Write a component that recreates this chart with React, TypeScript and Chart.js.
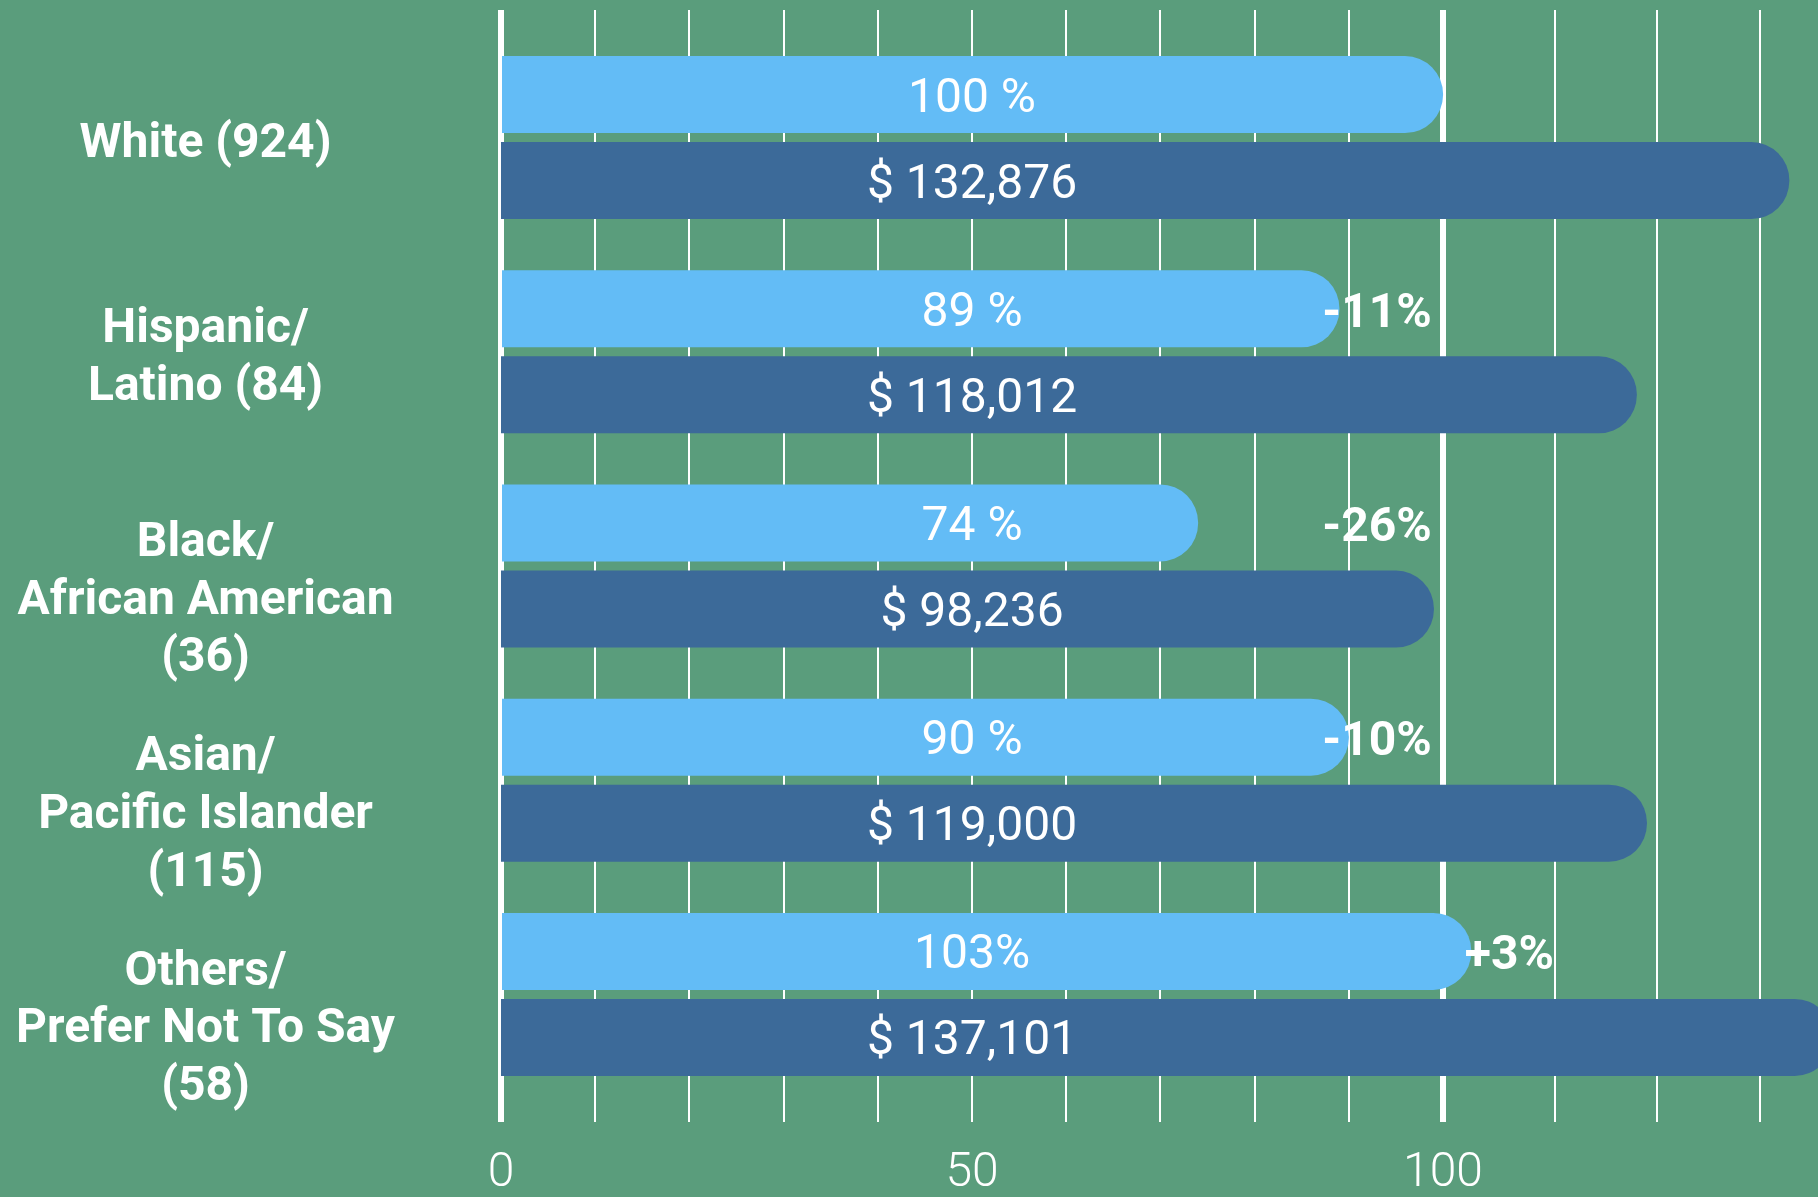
import React, { useEffect, useRef } from "react";
import { Chart, registerables } from "chart.js";

Chart.register(...registerables);

// ---- data ----
const categories: (string | string[])[] = [
  "White (924)",
  ["Hispanic/", "Latino (84)"],
  ["", "Black/", "African American", "(36)"],
  ["", "Asian/", "Pacific Islander", "(115)"],
  ["", "Others/", "Prefer Not To Say", "(58)"],
];
const pctOfWhite = [100, 89, 74, 90, 103];
const pctLabels = ["100 %", "89 %", "74 %", "90 %", "103%"];
const salaries = [132876, 118012, 98236, 119000, 137101];
const salaryLabels = ["$ 132,876", "$ 118,012", "$ 98,236", "$ 119,000", "$ 137,101"];
const innerGrid = [0, 10, 20, 30, 40, 50, 60, 70, 80, 90, 100];
const outerGrid = [110, 120, 130];
const refLines = [0, 100];
const xTickLabels = [0, 50, 100];

// ---- styles ----
const BG = "#5A9D7C";
const LIGHT = "#63BCF6";
const DARK = "#3C6A99";
const W = 1818;
const H = 1197;

const X_MAX = 139.8;
const X2_MIN = 7.31;
const X2_MAX = 135.67;
const LABEL_CENTER = 50;

const labelPlugin = {
  id: "valueLabels",
  afterDatasetsDraw(chart: any) {
    const ctx = chart.ctx;
    const xs = chart.scales.x;
    const cx = xs.getPixelForValue(LABEL_CENTER);
    const m0 = chart.getDatasetMeta(0);
    const m1 = chart.getDatasetMeta(1);
    ctx.save();
    ctx.fillStyle = "#ffffff";
    ctx.textBaseline = "middle";
    ctx.textAlign = "center";
    ctx.font = "400 48px Roboto";
    m0.data.forEach((el: any, i: number) => ctx.fillText(pctLabels[i], cx, el.y + 5));
    m1.data.forEach((el: any, i: number) => ctx.fillText(salaryLabels[i], cx, el.y + 5));
    ctx.font = "700 48px Roboto";
    m0.data.forEach((el: any, i: number) => {
      const d = pctOfWhite[i] - 100;
      if (d === 0) return;
      if (d < 0) {
        ctx.textAlign = "right";
        ctx.fillText(`-${Math.abs(d)}%`, xs.getPixelForValue(98.8), el.y + 6);
      } else {
        ctx.textAlign = "left";
        ctx.fillText(`+${d}%`, xs.getPixelForValue(102.3), el.y + 6);
      }
    });
    ctx.restore();
  },
};

export default function App() {
  const ref = useRef<HTMLCanvasElement>(null);
  useEffect(() => {
    if (!ref.current) return;
    Chart.defaults.font.family = "Roboto";
    const chart = new Chart(ref.current, {
      type: "bar",
      data: {
        datasets: [
          {
            label: "% of White",
            data: pctOfWhite.map((v, i) => ({ x: v, y: i })) as any,
            xAxisID: "x",
            yAxisID: "y",
            backgroundColor: LIGHT,
            borderRadius: 38,
            borderSkipped: "start",
            categoryPercentage: 0.8034,
            barPercentage: 0.8953,
            clip: 0,
          } as any,
          {
            label: "Salary",
            data: salaries.map((v, i) => ({ x: v / 1000, y: i })) as any,
            xAxisID: "x2",
            yAxisID: "y",
            backgroundColor: DARK,
            borderRadius: 38,
            borderSkipped: "start",
            categoryPercentage: 0.8034,
            barPercentage: 0.8953,
            clip: 0,
          } as any,
        ],
      },
      options: {
        indexAxis: "y",
        responsive: false,
        animation: false,
        layout: { padding: { top: 10, left: 0, right: 0, bottom: 0 } },
        plugins: { legend: { display: false }, tooltip: { enabled: false } },
        scales: {
          y: {
            type: "linear",
            reverse: true,
            offset: false,
            min: -0.5955,
            max: 4.5955,
            afterBuildTicks: (s: any) => {
              s.ticks = categories.map((_, i) => ({ value: i }));
            },
            afterFit: (s: any) => {
              s.width = 501;
              s.paddingTop = 0;
              s.paddingBottom = 0;
            },
            ticks: {
              autoSkip: false,
              crossAlign: "center",
              padding: 106,
              labelOffset: 7,
              color: "#ffffff",
              font: { family: "Roboto", size: 48, weight: "700", lineHeight: 1.2 },
              callback: (_v: any, i: number) => categories[i],
            },
            grid: { display: false, drawTicks: false },
            border: { display: false },
          } as any,
          x: {
            type: "linear",
            position: "bottom",
            min: 0,
            max: X_MAX,
            afterBuildTicks: (s: any) => {
              s.ticks = innerGrid.map((v) => ({ value: v }));
            },
            afterFit: (s: any) => {
              s.height = 75;
            },
            ticks: {
              autoSkip: false,
              maxRotation: 0,
              color: "#ffffff",
              padding: 28,
              font: { family: "Roboto", size: 48, weight: "300", lineHeight: 1 },
              callback: (v: any) => (xTickLabels.includes(v) ? String(v) : ""),
            },
            grid: { color: "#ffffff", lineWidth: 2, drawTicks: false },
            border: { display: false },
          } as any,
          x2: {
            type: "linear",
            position: "bottom",
            min: X2_MIN,
            max: X2_MAX,
            afterBuildTicks: (s: any) => {
              s.ticks = outerGrid.map((v) => ({ value: v }));
            },
            ticks: { display: false },
            grid: { color: "#ffffff", lineWidth: 2, drawTicks: false },
            border: { display: false },
          } as any,
          xRef: {
            type: "linear",
            position: "bottom",
            min: 0,
            max: X_MAX,
            z: 1,
            afterBuildTicks: (s: any) => {
              s.ticks = refLines.map((v) => ({ value: v }));
            },
            ticks: { display: false },
            grid: { color: "#ffffff", lineWidth: 6, drawTicks: false },
            border: { display: false },
          } as any,
        },
      },
      plugins: [labelPlugin],
    });
    return () => chart.destroy();
  }, []);

  return (
    <div style={{ position: "absolute", left: 0, top: 0, width: W, height: H, background: BG }}>
      <canvas ref={ref} width={W} height={H} style={{ display: "block" }} />
    </div>
  );
}
